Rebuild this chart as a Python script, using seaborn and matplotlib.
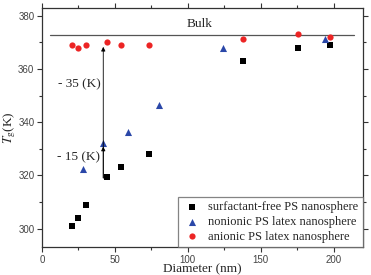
import numpy as np
import pandas as pd
import matplotlib
matplotlib.use("Agg")
import matplotlib.pyplot as plt
from matplotlib.ticker import MultipleLocator
import seaborn as sns

# ── Data ──────────────────────────────────────────────────────────────────────
free_d = [20.8, 24.9, 30.1, 44.7, 53.9, 73.1, 137.9, 175.8, 197.7]
free_tg = [301.1, 304.1, 309.0, 319.3, 323.2, 328.1, 363.0, 368.0, 369.0]

nonionic_d = [28.1, 42.0, 58.9, 80.1, 124.0, 194.0]
nonionic_tg = [322.4, 332.2, 336.4, 346.3, 368.0, 371.1]

anionic_d = [20.8, 24.9, 29.9, 44.7, 53.9, 73.1, 137.9, 175.8, 197.7]
anionic_tg = [369.0, 368.0, 369.0, 370.0, 369.1, 369.1, 371.1, 373.0, 372.0]

bulk_tg = 372.7
bulk_span = [5.5, 214.0]

labels = ["surfactant-free PS nanosphere",
          "nonionic PS latex nanosphere",
          "anionic PS latex nanosphere"]

df = pd.concat([
    pd.DataFrame({"d": free_d, "tg": free_tg, "kind": labels[0]}),
    pd.DataFrame({"d": nonionic_d, "tg": nonionic_tg, "kind": labels[1]}),
    pd.DataFrame({"d": anionic_d, "tg": anionic_tg, "kind": labels[2]}),
])

# ── Style ─────────────────────────────────────────────────────────────────────
sns.set_style("ticks")
plt.rcParams["font.family"] = ["Liberation Serif", "DejaVu Serif"]
plt.rcParams["mathtext.fontset"] = "stix"

palette = {labels[0]: "black", labels[1]: "#2a47a8", labels[2]: "#ec2424"}
markers = {labels[0]: "s", labels[1]: "^", labels[2]: "o"}
sizes = {labels[0]: 16, labels[1]: 26, labels[2]: 20}

fig = plt.figure(figsize=(3.71, 2.75), dpi=100)
ax = fig.add_axes([0.1132, 0.102, 0.865, 0.869])

for kind in labels:
    sub = df[df["kind"] == kind]
    sns.scatterplot(data=sub, x="d", y="tg", ax=ax, color=palette[kind],
                    marker=markers[kind], s=sizes[kind], linewidth=0,
                    label=kind, zorder=3)

ax.plot(bulk_span, [bulk_tg, bulk_tg], color="#555555", linewidth=0.9, zorder=2)
ax.text(99, 376.9, "Bulk", fontsize=9.5, va="center", ha="left")

# arrows at d = 42 nm
ax.annotate("", xy=(42, 368.3), xytext=(42, 319.0),
            arrowprops=dict(arrowstyle="-|>", color="black", lw=0.6,
                            mutation_scale=6, shrinkA=0, shrinkB=0))
ax.annotate("", xy=(42, 330.8), xytext=(42, 319.0),
            arrowprops=dict(arrowstyle="-|>", color="black", lw=0.6,
                            mutation_scale=6, shrinkA=0, shrinkB=0))
ax.text(40, 354.3, "- 35 (K)", fontsize=9.5, ha="right", va="center")
ax.text(40, 326.8, "- 15 (K)", fontsize=9.5, ha="right", va="center")

ax.set_xlim(0, 220)
ax.set_ylim(293.1, 382.9)
ax.xaxis.set_major_locator(MultipleLocator(50))
ax.xaxis.set_minor_locator(MultipleLocator(25))
ax.yaxis.set_major_locator(MultipleLocator(20))
ax.yaxis.set_minor_locator(MultipleLocator(10))
ax.tick_params(which="both", direction="out", top=True, right=True,
               color="#333333", width=0.8)
ax.tick_params(which="major", length=3.5)
ax.tick_params(which="minor", length=2)
ax.tick_params(labelsize=7, labelcolor="#444444", pad=2)
for lab in ax.get_xticklabels() + ax.get_yticklabels():
    lab.set_family(["Liberation Sans", "DejaVu Sans"])
for sp in ax.spines.values():
    sp.set_visible(True)
    sp.set_color("#333333")
    sp.set_linewidth(0.9)

ax.set_xlabel("Diameter (nm)", fontsize=9.5, labelpad=-1)
ax.set_ylabel(r"$T_{\mathrm{g}}$(K)", fontsize=9.5, labelpad=0)

leg = ax.legend(loc="lower right", fontsize=9, frameon=True, fancybox=False,
                borderaxespad=0, handletextpad=0.5, borderpad=0.35,
                labelspacing=0.22, handlelength=1.6)
leg.get_frame().set_edgecolor("#666666")
leg.get_frame().set_linewidth(0.9)

fig.savefig("out.png", dpi=100)
